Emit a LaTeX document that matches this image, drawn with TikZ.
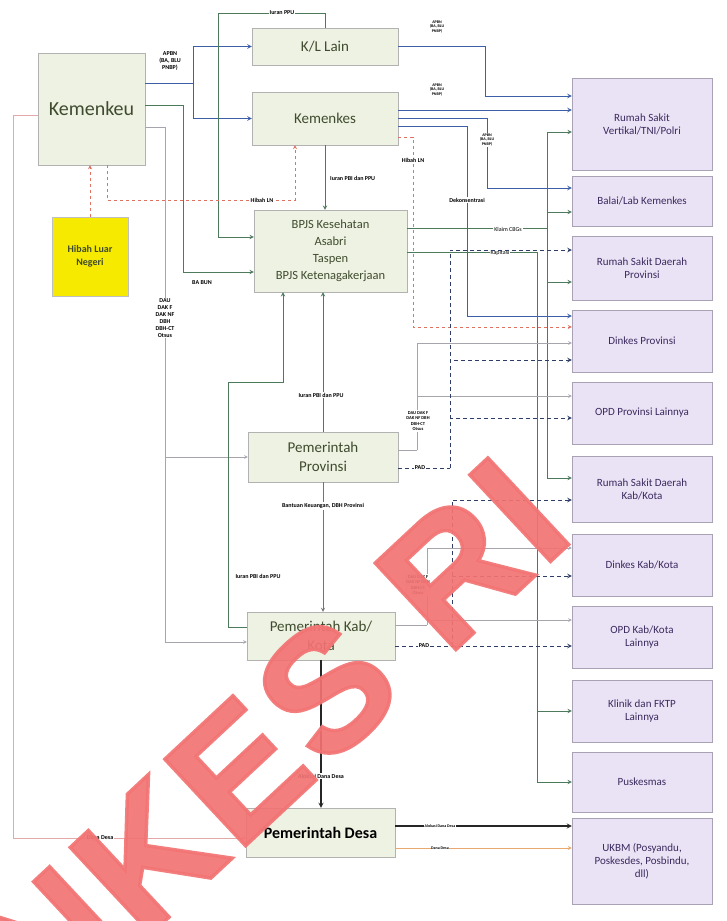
\documentclass[tikz,border=0pt]{standalone}
\usepackage{fontspec}
\setmainfont{Carlito}
\newfontfamily\wmfont[LetterSpace=3, FakeBold=2]{Liberation Sans Bold}
\usetikzlibrary{positioning, arrows}
\definecolor{boxgreen}{HTML}{EEF2E2}
\definecolor{boxtext}{HTML}{3F4B2E}
\definecolor{pboxfill}{HTML}{EAE2F5}
\definecolor{pboxline}{HTML}{A8A2B4}
\definecolor{ptext}{HTML}{3B2A5E}
\definecolor{flowblue}{HTML}{3C5FA8}
\definecolor{flowgreen}{HTML}{4E7A5C}
\definecolor{flowgray}{HTML}{A8A4AE}
\definecolor{flowred}{HTML}{E07060}
\definecolor{floworange}{HTML}{E8A870}
\definecolor{flownavy}{HTML}{2F3E66}
\definecolor{flowpink}{HTML}{E3A8A8}
\definecolor{hibahyellow}{HTML}{F6EA00}
\definecolor{wmred}{HTML}{F27373}

\begin{document}
\begin{tikzpicture}[x=1pt, y=-1pt, >=stealth,
  gbox/.style={draw=gray!60, fill=boxgreen, text=boxtext, align=center, inner sep=2pt},
  pbox/.style={draw=pboxline, fill=pboxfill, text=ptext, align=center, minimum width=140pt,
    font=\fontsize{11}{13}\selectfont},
  lbl/.style={font=\fontsize{6}{7}\selectfont\bfseries, align=center, inner sep=1pt, fill=white},
  tinylbl/.style={font=\fontsize{4}{4.6}\selectfont\bfseries, align=center, inner sep=0.5pt, fill=white},
  bflow/.style={draw=flowblue, line width=1pt},
  gflow/.style={draw=flowgreen, line width=0.9pt},
  grflow/.style={draw=flowgray, line width=0.6pt},
  hflow/.style={draw=flowred, line width=0.8pt, dashed},
  dflow/.style={draw=flownavy, line width=1pt, dash pattern=on 4pt off 3pt},
  kflow/.style={draw=black!85, line width=1.2pt}]
  \useasboundingbox (0,0) rectangle (726,921);

  % sumber dana
  \node[gbox, minimum width=107pt, minimum height=112pt, font=\fontsize{20}{24}\selectfont] (kmk) at (91.5,109) {Kemenkeu};
  \node[gbox, draw=gray!50, fill=hibahyellow, minimum width=76pt, minimum height=79pt,
    font=\fontsize{10}{13}\selectfont\bfseries] (hib) at (90,256.5) {Hibah Luar\\Negeri};

  % kolom tengah
  \node[gbox, minimum width=146pt, minimum height=37pt, font=\fontsize{15}{18}\selectfont] (kl)  at (325,46.5) {K/L Lain};
  \node[gbox, minimum width=146pt, minimum height=53pt, font=\fontsize{15}{18}\selectfont] (kms) at (325,118.5) {Kemenkes};
  \node[gbox, minimum width=153pt, minimum height=82pt, font=\fontsize{12.5}{17}\selectfont] (bpjs) at (330.5,251)
    {BPJS Kesehatan\\Asabri\\Taspen\\BPJS Ketenagakerjaan};
  \node[gbox, minimum width=150pt, minimum height=50pt, font=\fontsize{15}{19}\selectfont] (prov) at (323,457) {Pemerintah\\Provinsi};
  \node[gbox, minimum width=148pt, minimum height=48pt, font=\fontsize{15}{19}\selectfont] (kab)  at (321,636) {Pemerintah Kab/\\Kota};
  \node[gbox, text=black, minimum width=149pt, minimum height=49pt, font=\fontsize{16}{19}\selectfont\bfseries] (desa) at (320.5,832.5) {Pemerintah Desa};

  % kolom kanan
  \node[pbox, minimum height=92pt] (r1)  at (642,124) {Rumah Sakit\\Vertikal/TNI/Polri};
  \node[pbox, minimum height=50pt] (r2)  at (642,201) {Balai/Lab Kemenkes};
  \node[pbox, minimum height=64pt] (r3)  at (642,268) {Rumah Sakit Daerah\\Provinsi};
  \node[pbox, minimum height=62pt] (r4)  at (642,341) {Dinkes Provinsi};
  \node[pbox, minimum height=62pt] (r5)  at (642,413) {OPD Provinsi Lainnya};
  \node[pbox, minimum height=66pt] (r6)  at (642,489) {Rumah Sakit Daerah\\Kab/Kota};
  \node[pbox, minimum height=62pt] (r7)  at (642,565) {Dinkes Kab/Kota};
  \node[pbox, minimum height=62pt] (r8)  at (642,637) {OPD Kab/Kota\\Lainnya};
  \node[pbox, minimum height=62pt] (r9)  at (642,711) {Klinik dan FKTP\\Lainnya};
  \node[pbox, minimum height=60pt] (r10) at (642,782) {Puskesmas};
  \node[pbox, minimum height=86pt] (r11) at (642,861) {UKBM (Posyandu,\\Poskesdes, Posbindu,\\dll)};

  % Kemenkeu ke K/L dan Kemenkes
  \draw[bflow] (kmk.east |- 0,83) -- (193,83);
  \draw[bflow, ->] (193,83) |- (kl.west);
  \draw[bflow, ->] (193,83) |- (kms.west);
  \node[lbl, fill=none] at (170,61) {APBN\\(BA, BLU\\PNBP)};
  \draw[gflow, ->] (kmk.east |- 0,105) -- (183,105) |- (bpjs.west |- 0,272);
  \node[lbl] at (202,283) {BA BUN};
  \draw[gflow, ->] (kl.north) |- (218,13) |- (bpjs.west |- 0,237);
  \node[lbl] at (282,13) {Iuran PPU};

  % transfer daerah
  \draw[grflow] (kmk.east |- 0,127) -- (165,127) -- (165,457);
  \draw[grflow, ->] (165,457) -- (prov.west);
  \draw[grflow, ->] (165,457) |- (kab.west |- 0,642);
  \node[lbl] at (165,318) {DAU\\DAK F\\DAK NF\\DBH\\DBH-CT\\Otsus};
  \draw[draw=flowpink, line width=0.7pt, ->] (kmk.west |- 0,115) -- (13,115) |- (desa.west |- 0,838);
  \node[lbl] at (100,838) {Dana Desa};

  % hibah
  \draw[hflow, ->] (hib.north) -- (hib.north |- kmk.south);
  \draw[hflow, ->] (kmk.south -| 107,0) |- (295,200) -- (kms.south -| 295,0);
  \node[lbl] at (262,200) {Hibah LN};

  % iuran ke BPJS
  \draw[gflow, ->] (kms.south) -- (kms.south |- bpjs.north);
  \node[lbl, anchor=west, fill=none] at (329,178) {Iuran PBI dan PPU};
  \draw[gflow, ->] (prov.north) -- (prov.north |- bpjs.south);
  \node[lbl] at (321,395) {Iuran PBI dan PPU};
  \draw[gflow, ->] (kab.west |- 0,627) -- (228,627) -- (228,382) -- (283,382) -- (bpjs.south -| 283,0);
  \node[lbl] at (258,576) {Iuran PBI dan PPU};

  % antar pemerintah
  \draw[grflow, line width=0.8pt, draw=black!55, ->] (prov.south) -- (prov.south |- kab.north);
  \node[lbl] at (323,506) {Bantuan Keuangan, DBH Provinsi};
  \draw[kflow, ->] (kab.south) -- (kab.south |- desa.north);
  \node[lbl] at (321,776) {Alokasi Dana Desa};
  \draw[kflow, ->] (desa.east |- 0,826) -- (r11.west |- 0,826);
  \node[tinylbl] at (440,826) {Alokasi Dana Desa};
  \draw[draw=floworange, line width=0.8pt, ->] (desa.east |- 0,848) -- (r11.west |- 0,848);
  \node[tinylbl] at (440,848) {Dana Desa};

  % K/L dan Kemenkes ke fasilitas
  \draw[bflow, ->] (kl.east) -- (485,46.5) |- (r1.west |- 0,96);
  \node[tinylbl, fill=none] at (437,27) {APBN\\(BA, BLU\\PNBP)};
  \draw[bflow, ->] (kms.east |- 0,110) -- (r1.west |- 0,110);
  \node[tinylbl, fill=none] at (437,90) {APBN\\(BA, BLU\\PNBP)};
  \draw[bflow, ->] (kms.east |- 0,118) -- (487,118) |- (r2.west |- 0,188);
  \node[tinylbl] at (487,140) {APBN\\(BA, BLU\\PNBP)};
  \draw[bflow, ->] (kms.east |- 0,126) -- (467,126) |- (r4.west |- 0,316);
  \node[lbl] at (467,200) {Dekonsentrasi};
  \draw[hflow, ->] (kms.east |- 0,137) -- (413,137) |- (r4.west |- 0,327);
  \node[lbl] at (413,160) {Hibah LN};

  % BPJS ke fasilitas
  \draw[gflow] (bpjs.east |- 0,228) -- (547,228);
  \draw[gflow, ->] (547,228) |- (r1.west |- 0,132);
  \draw[gflow, ->] (547,228) |- (r2.west |- 0,212);
  \draw[gflow, ->] (547,228) |- (r3.west |- 0,282);
  \draw[gflow, ->] (547,228) |- (r6.west |- 0,478);
  \node[lbl, font=\fontsize{6}{7}\selectfont] at (508,229) {Klaim CBGs};
  \draw[gflow] (bpjs.east |- 0,252) -- (537,252);
  \draw[gflow, ->] (537,252) |- (r9.west |- 0,711);
  \draw[gflow, ->] (537,252) |- (r10.west |- 0,782);
  \node[lbl, font=\fontsize{6}{7}\selectfont] at (500,253) {Kapitasi};

  % provinsi ke fasilitas
  \draw[grflow] (prov.east |- 0,450) -- (417,450);
  \draw[grflow, ->] (417,450) |- (r4.west |- 0,343);
  \draw[grflow, ->] (417,450) |- (r5.west |- 0,396);
  \node[lbl, font=\fontsize{4.5}{5.5}\selectfont\bfseries] at (418,421) {DAU DAK F\\DAK NF DBH\\DBH-CT\\Otsus};
  \draw[dflow] (prov.east |- 0,468) -- (450,468);
  \draw[dflow, ->] (450,468) |- (r3.west |- 0,250);
  \draw[dflow, ->] (450,468) |- (r4.west |- 0,360);
  \draw[dflow, ->] (450,468) |- (r5.west |- 0,418);
  \node[lbl] at (420,468) {PAD};

  % kab/kota ke fasilitas
  \draw[grflow] (kab.east |- 0,625) -- (427,625);
  \draw[grflow, ->] (427,625) |- (r7.west |- 0,548);
  \draw[grflow, ->] (427,625) |- (r8.west |- 0,620);
  \node[lbl, font=\fontsize{4.5}{5.5}\selectfont\bfseries] at (418,585) {DAU DAK F\\DAK NF DBH\\DBH-CT\\Otsus};
  \draw[dflow] (kab.east |- 0,646) -- (452,646);
  \draw[dflow, ->] (452,646) |- (r6.west |- 0,500);
  \draw[dflow, ->] (452,646) |- (r7.west |- 0,576);
  \draw[dflow, ->] (452,646) -- (r8.west |- 0,646);
  \node[lbl] at (424,646) {PAD};

  % watermark
  \begin{scope}
    \clip (0,0) rectangle (726,921);
    \node[rotate=43, anchor=east, inner sep=0pt, text=wmred, opacity=0.92,
      font=\wmfont\fontsize{172}{172}\selectfont] (wm) at (537,493) {KEMENKES RI};
  \end{scope}
\end{tikzpicture}
\end{document}
